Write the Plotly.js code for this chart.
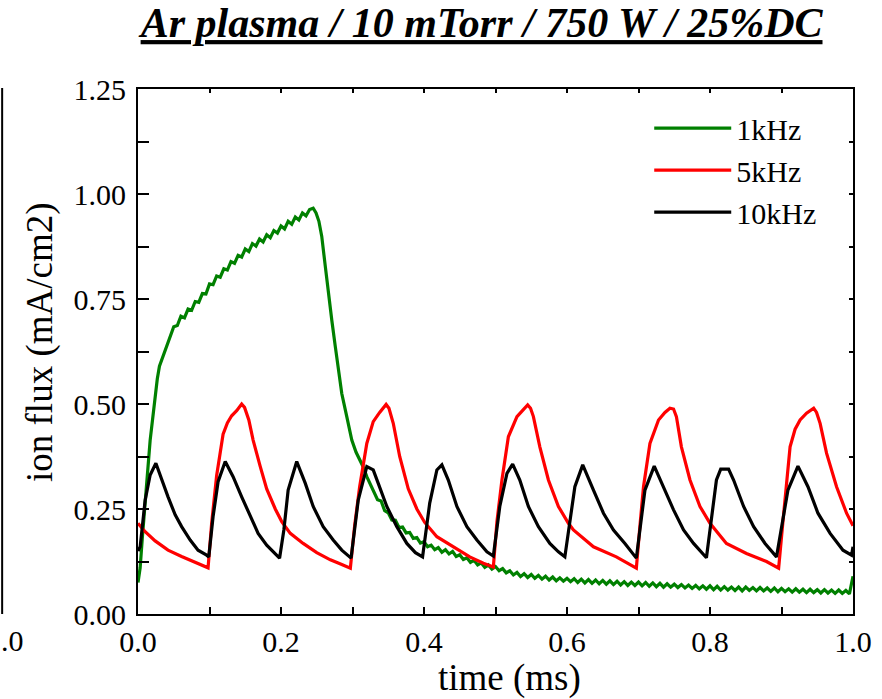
<!DOCTYPE html>
<html>
<head>
<meta charset="utf-8">
<script src="https://cdn.plot.ly/plotly-3.0.1.min.js"></script>
<style>html,body{margin:0;padding:0;background:#fff;}#chart{width:882px;height:699px;}</style>
</head>
<body>
<div id="chart"></div>
<script>
// ---- data ----
var seriesNames = ['1kHz', '5kHz', '10kHz'];

var t1k = [0.000,0.003,0.006,0.010,0.014,0.017,0.020,0.024,0.027,0.030,0.033,0.038,0.042,0.045,
  0.050,0.055,0.060,0.065,0.070,0.075,0.080,0.085,0.090,0.095,0.100,0.105,0.110,0.115,0.120,0.125,
  0.130,0.135,0.140,0.145,0.150,0.155,0.160,0.165,0.170,0.175,0.180,0.185,0.190,0.195,0.200,0.205,
  0.210,0.215,0.220,0.225,0.230,0.235,0.240,0.245,
  0.249,0.253,0.257,0.262,0.266,0.271,0.276,0.280,0.285,0.292,0.299,0.305,0.310,0.315,0.320,0.327,0.331,
  0.335,0.340,0.345,0.350,0.355,0.360,0.365,0.370,0.375,0.380,0.385,0.390,0.395,
  0.400,0.405,0.410,0.415,0.420,0.425,0.430,0.435,0.440,0.445,0.450,0.455,0.460,0.465,0.470,0.475,
  0.480,0.485,0.490,0.495,0.500,0.505,0.510,0.515,0.520,0.525,0.530,0.535,0.540,0.545,0.550,0.555,
  0.560,0.565,0.570,0.575,0.580,0.585,0.590,0.595,0.600,0.605,0.610,0.615,0.620,0.625,0.630,0.635,
  0.640,0.645,0.650,0.655,0.660,0.665,0.670,0.675,0.680,0.685,0.690,0.695,0.700,0.705,0.710,0.715,
  0.720,0.725,0.730,0.735,0.740,0.745,0.750,0.755,0.760,0.765,0.770,0.775,0.780,0.785,0.790,0.795,
  0.800,0.805,0.810,0.815,0.820,0.825,0.830,0.835,0.840,0.845,0.850,0.855,0.860,0.865,0.870,0.875,
  0.880,0.885,0.890,0.895,0.900,0.905,0.910,0.915,0.920,0.925,0.930,0.935,0.940,0.945,0.950,0.955,
  0.960,0.965,0.970,0.975,0.980,0.985,0.990,0.995,1.000];
var v1k = [0.075,0.110,0.180,0.256,0.350,0.414,0.460,0.510,0.560,0.590,0.605,0.629,0.648,0.660,
  0.684,0.687,0.709,0.705,0.726,0.723,0.744,0.742,0.763,0.762,0.786,0.784,0.805,0.802,0.822,0.819,
  0.839,0.835,0.854,0.850,0.869,0.863,0.882,0.876,0.893,0.886,0.903,0.896,0.913,0.907,0.924,0.917,
  0.935,0.928,0.945,0.938,0.955,0.948,0.963,0.966,
  0.955,0.935,0.899,0.827,0.764,0.700,0.636,0.581,0.525,0.470,0.414,0.385,0.367,0.350,0.327,0.300,0.288,
  0.272,0.269,0.246,0.241,0.224,0.223,0.206,0.207,0.193,0.194,0.180,0.182,0.169,
  0.172,0.160,0.164,0.153,0.158,0.147,0.153,0.143,0.149,0.137,0.141,0.130,0.134,0.123,0.128,0.117,
  0.122,0.111,0.117,0.107,0.113,0.103,0.108,0.098,0.103,0.093,0.099,0.089,0.096,0.087,0.094,0.085,
  0.092,0.083,0.090,0.081,0.088,0.079,0.086,0.078,0.085,0.077,0.084,0.075,0.083,0.074,0.082,0.073,
  0.081,0.072,0.080,0.071,0.079,0.070,0.078,0.069,0.077,0.068,0.076,0.068,0.076,0.067,0.075,0.066,
  0.074,0.065,0.073,0.064,0.072,0.064,0.071,0.063,0.070,0.062,0.069,0.061,0.068,0.060,0.067,0.059,
  0.067,0.058,0.066,0.057,0.065,0.057,0.064,0.056,0.064,0.055,0.064,0.056,0.063,0.055,0.063,0.055,
  0.062,0.054,0.062,0.053,0.061,0.053,0.060,0.052,0.060,0.052,0.059,0.051,0.059,0.051,0.058,0.050,
  0.058,0.050,0.057,0.049,0.057,0.049,0.056,0.048,0.090];

var t5k = [0.000,0.010,0.024,0.042,0.061,0.080,0.098,
  0.103,0.110,0.119,0.125,0.131,0.138,0.145,0.149,0.155,0.161,0.171,0.180,0.192,0.201,0.213,0.231,0.250,0.269,0.285,0.297,
  0.303,0.310,0.320,0.329,0.338,0.347,0.351,0.357,0.366,0.378,0.390,0.401,0.418,0.441,0.464,0.483,0.497,
  0.502,0.509,0.518,0.530,0.538,0.545,0.549,0.553,0.562,0.574,0.588,0.602,0.609,0.637,0.669,0.685,0.697,
  0.702,0.707,0.716,0.728,0.737,0.744,0.749,0.753,0.760,0.772,0.786,0.800,0.823,0.851,0.879,0.896,
  0.902,0.912,0.919,0.926,0.935,0.945,0.949,0.954,0.963,0.977,0.991,1.000];
var v5k = [0.216,0.196,0.174,0.152,0.137,0.124,0.110,
  0.216,0.330,0.428,0.455,0.472,0.484,0.500,0.492,0.462,0.414,0.351,0.298,0.250,0.220,0.192,0.168,0.146,0.129,0.118,0.109,
  0.210,0.303,0.406,0.458,0.480,0.499,0.490,0.454,0.375,0.298,0.250,0.218,0.184,0.160,0.136,0.121,0.112,
  0.220,0.319,0.422,0.470,0.485,0.498,0.490,0.470,0.398,0.319,0.256,0.216,0.200,0.160,0.136,0.120,0.109,
  0.210,0.303,0.406,0.462,0.480,0.490,0.488,0.470,0.398,0.319,0.256,0.216,0.168,0.144,0.125,0.109,
  0.220,0.398,0.440,0.462,0.478,0.490,0.480,0.454,0.383,0.303,0.240,0.210];

var t10k = [0.000,0.003,0.010,0.017,0.025,0.033,0.042,0.052,0.061,0.073,0.084,0.096,0.099,
  0.105,0.112,0.122,0.133,0.145,0.157,0.168,0.180,0.192,0.198,
  0.204,0.210,0.222,0.234,0.245,0.259,0.273,0.285,0.298,
  0.308,0.320,0.329,0.336,0.348,0.362,0.376,0.388,0.398,
  0.408,0.418,0.425,0.434,0.446,0.460,0.474,0.488,0.497,
  0.506,0.516,0.524,0.534,0.546,0.560,0.576,0.588,0.597,
  0.611,0.622,0.637,0.651,0.665,0.681,0.697,
  0.709,0.722,0.735,0.749,0.763,0.777,0.795,
  0.809,0.815,0.826,0.833,0.847,0.861,0.877,0.893,
  0.909,0.923,0.937,0.951,0.968,0.986,0.998,1.000];
var v10k = [0.150,0.160,0.271,0.331,0.359,0.319,0.279,0.236,0.208,0.176,0.152,0.140,0.136,
  0.232,0.315,0.363,0.327,0.279,0.232,0.192,0.164,0.144,0.133,
  0.200,0.295,0.363,0.311,0.256,0.208,0.176,0.152,0.133,
  0.271,0.351,0.343,0.311,0.256,0.208,0.168,0.146,0.136,
  0.264,0.343,0.355,0.319,0.256,0.208,0.176,0.148,0.138,
  0.256,0.335,0.357,0.319,0.256,0.208,0.168,0.148,0.136,
  0.303,0.355,0.295,0.240,0.200,0.168,0.133,
  0.295,0.352,0.303,0.248,0.200,0.168,0.134,
  0.319,0.345,0.345,0.319,0.256,0.208,0.168,0.136,
  0.295,0.352,0.303,0.240,0.192,0.152,0.140,0.160];

var xTickVals = [0, 0.2, 0.4, 0.6, 0.8, 1.0];
var xTickText = ['0.0', '0.2', '0.4', '0.6', '0.8', '1.0'];
var yTickVals = [0, 0.25, 0.5, 0.75, 1.0, 1.25];
var yTickText = ['0.00', '0.25', '0.50', '0.75', '1.00', '1.25'];

var seriesColors = ['#008000', '#ff0000', '#000000'];

// ---- chart ----
var FONT = 'Liberation Serif, Times New Roman, serif';
var traces = [
  {x: t1k, y: v1k, name: seriesNames[0], type: 'scatter', mode: 'lines', line: {color: seriesColors[0], width: 3.2}},
  {x: t5k, y: v5k, name: seriesNames[1], type: 'scatter', mode: 'lines', line: {color: seriesColors[1], width: 3.2}},
  {x: t10k, y: v10k, name: seriesNames[2], type: 'scatter', mode: 'lines', line: {color: seriesColors[2], width: 3.2}},
  {x: [null], y: [null], xaxis: 'x2', yaxis: 'y2', showlegend: false, hoverinfo: 'skip', mode: 'lines'}
];

var layout = {
  width: 882, height: 699,
  margin: {l: 138, r: 29, t: 89, b: 85, pad: 0},
  paper_bgcolor: '#ffffff', plot_bgcolor: '#ffffff',
  font: {family: FONT, color: '#000', size: 30},
  showlegend: true,
  title: {
    text: '<u>Ar plasma / 10 mTorr / 750 W / 25%DC</u>',
    font: {family: FONT, size: 42, weight: 'bold', style: 'italic', color: '#000'},
    xref: 'container', x: 0.546, xanchor: 'center',
    yref: 'container', y: 0.968, yanchor: 'middle'
  },
  xaxis: {
    range: [0, 1], showgrid: false, zeroline: false,
    showline: true, linecolor: '#000', linewidth: 2,
    ticks: 'inside', ticklen: 7, tickwidth: 2, tickcolor: '#000',
    tickmode: 'array', tickvals: xTickVals, ticktext: xTickText,
    tickfont: {family: FONT, size: 30},
    ticklabelstandoff: 0,
    minor: {dtick: 0.1, ticks: 'inside', ticklen: 7, tickwidth: 2, tickcolor: '#000', showgrid: false},
    title: {text: '&nbsp;&nbsp;&nbsp;time (ms)', font: {family: FONT, size: 37}, standoff: 3}
  },
  yaxis: {
    range: [0, 1.25], showgrid: false, zeroline: false,
    showline: true, linecolor: '#000', linewidth: 2,
    ticks: 'inside', ticklen: 11, tickwidth: 2, tickcolor: '#000',
    tickmode: 'array', tickvals: yTickVals, ticktext: yTickText,
    tickfont: {family: FONT, size: 30},
    ticklabelstandoff: 4,
    minor: {dtick: 0.125, ticks: 'inside', ticklen: 11, tickwidth: 2, tickcolor: '#000', showgrid: false},
    title: {text: '&nbsp;&nbsp;ion flux (mA/cm2)', font: {family: FONT, size: 37}, standoff: 10}
  },
  xaxis2: {
    overlaying: 'x', anchor: 'y', side: 'top', range: [0, 1],
    showgrid: false, zeroline: false, showline: true, linecolor: '#000', linewidth: 2,
    ticks: 'inside', ticklen: 4, tickwidth: 2, tickcolor: '#000', dtick: 0.1, tick0: 0,
    showticklabels: false
  },
  yaxis2: {
    overlaying: 'y', anchor: 'x', side: 'right', range: [0, 1.25],
    showgrid: false, zeroline: false, showline: true, linecolor: '#000', linewidth: 2,
    ticks: 'inside', ticklen: 4, tickwidth: 2, tickcolor: '#000', dtick: 0.125, tick0: 0,
    showticklabels: false
  },
  legend: {
    x: 0.715, y: 0.975, xanchor: 'left', yanchor: 'top',
    bgcolor: 'rgba(0,0,0,0)', borderwidth: 0,
    font: {family: FONT, size: 30, color: '#000'},
    itemwidth: 77, tracegroupgap: 0
  },
  shapes: [
    {type: 'line', xref: 'paper', yref: 'paper', x0: -0.190, x1: -0.190, y0: 0, y1: 1.002,
     line: {color: '#000', width: 2}}
  ],
  annotations: [
    {text: '.0', xref: 'paper', yref: 'paper', x: -0.193, y: -0.05, xanchor: 'left', yanchor: 'middle',
     showarrow: false, borderpad: 0, font: {family: FONT, size: 30, color: '#000'}}
  ]
};

Plotly.newPlot('chart', traces, layout, {displayModeBar: false, staticPlot: true});
</script>
</body>
</html>
